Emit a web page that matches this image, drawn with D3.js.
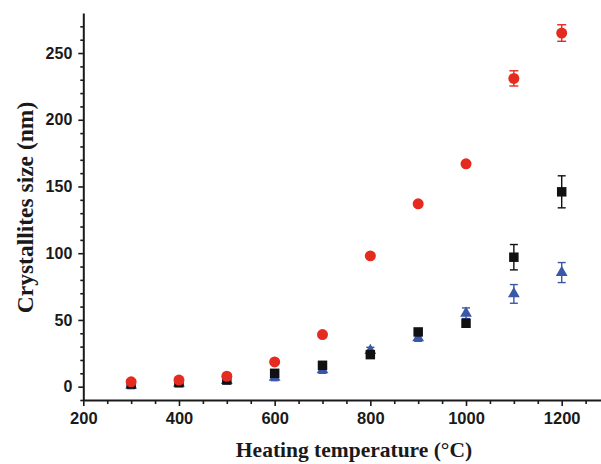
<!DOCTYPE html>
<html><head><meta charset="utf-8">
<script src="https://cdn.jsdelivr.net/npm/d3@7"></script>
<style>body{margin:0;background:#fff;} svg{display:block;}</style>
</head><body>
<svg id="c" width="601" height="464"></svg>
<script>
const temps = [300,400,500,600,700,800,900,1000,1100,1200];
const redVals   = [3.6, 4.9, 7.8, 18.5, 39, 98, 137, 167, 231, 265];
const redErr    = [1, 1, 1, 1, 1, 1, 1, 1, 5.7, 6.2];
const blackVals = [2, 3, 5, 10, 16, 24, 41, 47.5, 97, 146];
const blackErr  = [1.5, 1.5, 1.5, 1.5, 1.5, 1.5, 1.5, 1.5, 9.5, 12];
const blueVals  = [1, 2.5, 4.5, 7, 12.5, 27, 36.5, 55, 69.5, 85.5];
const blueErr   = [2.5, 2.5, 2.5, 2.5, 2.5, 2.5, 2.5, 4, 7, 7.5];
const xMajor = [200,400,600,800,1000,1200];
const xMinor = [250,300,350,450,500,550,650,700,750,850,900,950,1050,1100,1150,1250];
const yMajor = [0,50,100,150,200,250];
const yMinor = [-10,10,20,30,40,60,70,80,90,110,120,130,140,160,170,180,190,210,220,230,240,260,270];

const svg = d3.select("#c");
const x = d3.scaleLinear().domain([200,1300]).range([83.3, 83.3+1100*0.4784]);
const y = d3.scaleLinear().domain([-10,280]).range([400,13]);
const axisColor = "#1a1a1a";

// x axis
const gx = svg.append("g").attr("transform","translate(0,400)");
gx.call(d3.axisBottom(x).tickValues(xMinor).tickSize(4).tickFormat("").tickSizeOuter(0));
gx.call(g=>g.select(".domain").remove());
const gx2 = svg.append("g").attr("transform","translate(0,400)");
gx2.call(d3.axisBottom(x).tickValues(xMajor).tickSize(6).tickPadding(6).tickSizeOuter(0).tickFormat(d3.format("d")));
gx2.select(".domain").attr("stroke",axisColor).attr("stroke-width",2);
gx2.selectAll("text").attr("font-family","Liberation Sans, Arial, sans-serif").attr("font-weight","bold").attr("font-size","16.5px").attr("fill","#1a1a1a");

// y axis
const gy = svg.append("g").attr("transform","translate(83.3,0)");
gy.call(d3.axisLeft(y).tickValues(yMinor).tickSize(3).tickFormat("").tickSizeOuter(0));
gy.call(g=>g.select(".domain").remove());
const gy2 = svg.append("g").attr("transform","translate(83.3,0)");
gy2.call(d3.axisLeft(y).tickValues(yMajor).tickSize(5).tickPadding(6).tickSizeOuter(0).tickFormat(d3.format("d")));
gy2.select(".domain").attr("stroke",axisColor).attr("stroke-width",2);
gy2.selectAll("text").attr("font-family","Liberation Sans, Arial, sans-serif").attr("font-weight","bold").attr("font-size","16px").attr("fill","#1a1a1a");
svg.selectAll(".tick line").attr("stroke",axisColor).attr("stroke-width",1.6);

// error bars + markers
function series(vals, errs, color, shape, capW){
  const g = svg.append("g");
  const data = temps.map((t,i)=>({t, v:vals[i], e:errs[i]}));
  const eb = g.selectAll("g.eb").data(data).join("g");
  eb.append("line").attr("x1",d=>x(d.t)).attr("x2",d=>x(d.t)).attr("y1",d=>y(d.v+d.e)).attr("y2",d=>y(d.v-d.e)).attr("stroke",color).attr("stroke-width",1.4);
  eb.append("line").attr("x1",d=>x(d.t)-capW/2).attr("x2",d=>x(d.t)+capW/2).attr("y1",d=>y(d.v+d.e)).attr("y2",d=>y(d.v+d.e)).attr("stroke",color).attr("stroke-width",1.4);
  eb.append("line").attr("x1",d=>x(d.t)-capW/2).attr("x2",d=>x(d.t)+capW/2).attr("y1",d=>y(d.v-d.e)).attr("y2",d=>y(d.v-d.e)).attr("stroke",color).attr("stroke-width",1.4);
  g.selectAll("path.m").data(data).join("path")
    .attr("d", d3.symbol().type(shape.type).size(shape.size))
    .attr("transform", d=>`translate(${x(d.t)},${y(d.v)})`)
    .attr("fill",color);
}
series(blueVals, blueErr, "#3b57a8", {type:d3.symbolTriangle,size:60}, 8);
series(blackVals, blackErr, "#111111", {type:d3.symbolSquare,size:90}, 8);
series(redVals, redErr, "#e52a1f", {type:d3.symbolCircle,size:95}, 9);

// axis titles
svg.append("text").attr("x",354).attr("y",457).attr("text-anchor","middle")
  .attr("font-family","Liberation Serif, Times New Roman, serif").attr("font-weight","bold").attr("font-size","21.5px").attr("fill","#1a1a1a")
  .text("Heating temperature (°C)");
svg.append("text").attr("transform","translate(33,207.5) rotate(-90)").attr("text-anchor","middle")
  .attr("font-family","Liberation Serif, Times New Roman, serif").attr("font-weight","bold").attr("font-size","23.5px").attr("fill","#1a1a1a")
  .text("Crystallites size (nm)");
</script>
</body></html>
